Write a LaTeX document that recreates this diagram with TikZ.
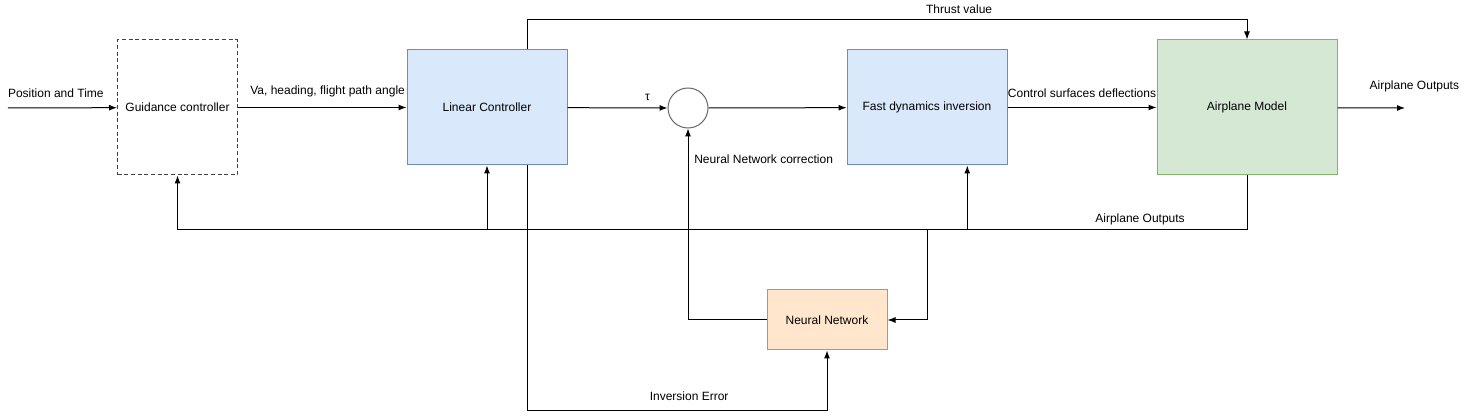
\documentclass[tikz,border=0pt]{standalone}
\usepackage{fontspec}
\setmainfont{Liberation Sans}
\usetikzlibrary{arrows,arrows.meta,calc,positioning}
\definecolor{bluefill}{HTML}{DAE8FC}
\definecolor{bluedraw}{HTML}{6C8EBF}
\definecolor{greenfill}{HTML}{D5E8D4}
\definecolor{greendraw}{HTML}{82B366}
\definecolor{orangefill}{HTML}{FFE6CC}
\definecolor{orangedraw}{HTML}{D79B00}

\begin{document}
\begin{tikzpicture}[x=0.75pt,y=-0.75pt,line width=0.75pt,>={Latex[length=6pt,width=4.5pt]},
	font=\fontsize{9}{11}\selectfont,
	block/.style={draw,inner sep=0pt,minimum width=120pt,minimum height=86.25pt},
	bluebox/.style={block,fill=bluefill,draw=bluedraw},
	greenbox/.style={block,fill=greenfill,draw=greendraw,minimum width=135pt,minimum height=101.25pt},
	guidbox/.style={block,draw=black!75,dash pattern=on 3pt off 2pt,minimum width=90pt,minimum height=101.25pt},
	nnbox/.style={block,fill=orangefill,draw=orangedraw,minimum width=90pt,minimum height=45pt},
	sumnode/.style={circle,draw=black!60,inner sep=0pt,minimum size=30pt}]
	\useasboundingbox (0,0) rectangle (1468,420);
	% blocks
	\node[guidbox](guid) at (177.5,107.5){Guidance controller};
	\node[bluebox](lin) at (487,107.5){Linear Controller};
	\node[sumnode](sum) at (688,108){};
	\node[bluebox](fdi) at (927,107.5){Fast dynamics inversion};
	\node[greenbox](plane) at (1247,107.5){Airplane Model};
	\node[nnbox](nn) at (827,320){Neural Network};
	\coordinate (in) at (8,108);
	\coordinate (out) at (1405,108);
	\coordinate (bus) at (0,230);
	\coordinate (linout) at ($(lin.south west)!0.75!(lin.south east)$);
	\coordinate (thrust) at ($(lin.north west)!0.75!(lin.north east)$);
	\coordinate (fdiin) at ($(fdi.south west)!0.75!(fdi.south east)$);
	% forward path
	\draw[->] (in) -- node[above=4pt,xshift=-5pt]{Position and Time} (guid);
	\draw[->] (guid) -- node[above=4pt,xshift=4pt]{Va, heading, flight path angle} (lin);
	\draw[->] (lin) -- node[pos=0.8,above=2pt]{τ} (sum);
	\draw[->] (sum) -- (fdi);
	\draw[->] (fdi) -- node[above=4pt]{Control surfaces deflections} (plane);
	\draw[->] (plane) -- node[pos=1,above=8pt,xshift=7pt]{Airplane Outputs} (out);
	\draw[->] (thrust) -- ++(0,-30) -| node[pos=0.3,above=1pt]{Thrust value} (plane.north);
	% feedback
	\draw[->] (plane.south) |- node[pos=0.55,above=0pt]{Airplane Outputs} (guid.south |- bus) -- (guid.south);
	\draw[->] (lin.south |- bus) -- (lin.south);
	\draw[->] (fdiin |- bus) -- (fdiin);
	\draw[->] (fdi.south |- bus) |- (nn.east);
	\draw[->] (nn.west) -| node[pos=0.92,right=1pt]{Neural Network correction} (sum.south);
	\draw[->] (linout) -- ++(0,245) -| node[pos=0.27,above=3.5pt]{Inversion Error} (nn.south);
\end{tikzpicture}
\end{document}
